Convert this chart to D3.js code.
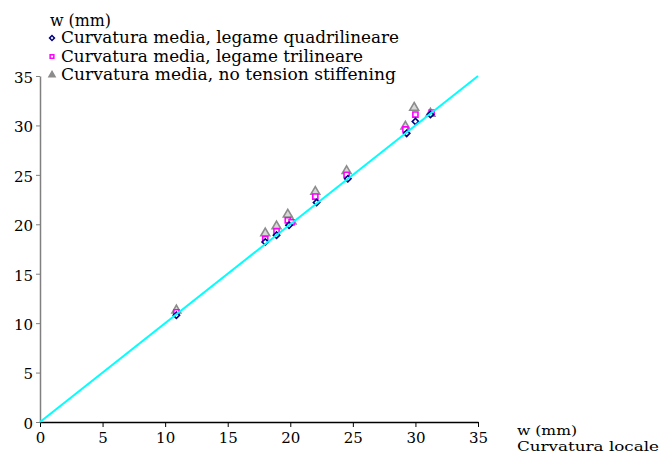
<!DOCTYPE html>
<html>
<head>
<meta charset="utf-8">
<script src="https://cdn.jsdelivr.net/npm/d3@7/dist/d3.min.js"></script>
<style>
  body { margin: 0; background: #fff; }
  text { font-family: "DejaVu Serif", serif; }
</style>
</head>
<body>
<svg id="chart" width="659" height="458"></svg>
<script>
// Deflection (mm): local curvature (x) vs. mean curvature (y)
const xQuad = [10.9, 18.0, 18.9, 19.9, 22.1, 24.6, 29.3, 30.0, 31.2];
const yQuad = [10.8, 18.2, 18.9, 19.9, 22.2, 24.6, 29.2, 30.4, 31.1];
const xTri  = [10.9, 18.0, 18.9, 19.8, 20.1, 22.0, 24.5, 29.2, 30.0, 31.3];
const yTri  = [11.1, 18.5, 19.3, 20.4, 20.2, 22.8, 25.0, 29.6, 31.1, 31.3];
const xNoTS = [10.9, 18.0, 18.9, 19.8, 20.1, 22.0, 24.5, 29.2, 29.9, 31.2];
const yNoTS = [11.3, 19.1, 19.8, 21.0, 20.3, 23.3, 25.4, 29.9, 31.8, 31.2];
const lineX = [0, 35];
const ticks = [0, 5, 10, 15, 20, 25, 30, 35];
const legendLabels = [
  "Curvatura media, legame quadrilineare",
  "Curvatura media, legame trilineare",
  "Curvatura media, no tension stiffening"
];
const legendWidths = [338, 302, 335];

const svg = d3.select("#chart");
const x = d3.scaleLinear().domain([0, 35]).range([40, 478]);
const y = d3.scaleLinear().domain([0, 35]).range([422, 76]);

// axes
const yAxis = svg.append("g").attr("transform", "translate(40,0)")
  .call(d3.axisLeft(y).tickValues(ticks).tickSize(4).tickSizeOuter(0).tickPadding(3));
yAxis.select(".domain").attr("stroke", "#808080").attr("stroke-width", 1.5);
yAxis.selectAll(".tick line").attr("stroke", "#808080");
yAxis.selectAll("text").attr("font-size", 15).attr("fill", "#000").attr("dy", "0.42em");

const xAxis = svg.append("g").attr("transform", "translate(0,422)")
  .call(d3.axisBottom(x).tickValues(ticks).tickSize(5).tickSizeOuter(0).tickPadding(5));
xAxis.select(".domain").attr("stroke", "#000").attr("stroke-width", 1.5);
xAxis.selectAll(".tick line").attr("stroke", "#000");
xAxis.selectAll("text").attr("font-size", 15).attr("fill", "#000");

// axis titles
function title(tx, ty, size, len, str) {
  svg.append("text").attr("x", tx).attr("y", ty).attr("font-size", size)
    .attr("textLength", len).attr("lengthAdjust", "spacingAndGlyphs").text(str);
}
title(50, 25.5, 16, 61, "w (mm)");
title(517, 435, 13.5, 60, "w (mm)");
title(517, 451, 13.5, 142, "Curvatura locale");

// markers
const diamondPath = d3.symbol().type(d3.symbolSquare).size(20)();
const symSquare = d3.symbol().type(d3.symbolSquare).size(26);
const symTri = d3.symbol().type(d3.symbolTriangle).size(34);

function drawSeries(xs, ys, d, stroke, fill, rot) {
  svg.append("g").selectAll("path").data(xs).join("path")
    .attr("d", d)
    .attr("transform", (v, i) => `translate(${x(v)},${y(ys[i])}) rotate(${rot})`)
    .attr("fill", fill).attr("stroke", stroke).attr("stroke-width", 1.6);
}
drawSeries(xNoTS, yNoTS, symTri, "#8c8c8c", "#d8d8d8", 0);
drawSeries(xTri, yTri, symSquare, "#ff00ff", "#fff", 0);
drawSeries(xQuad, yQuad, diamondPath, "#000080", "#fff", 45);

// reference line y = x
svg.append("path")
  .datum(lineX)
  .attr("d", d3.line().x(d => x(d)).y(d => y(d)))
  .attr("stroke", "#00ffff").attr("stroke-width", 2).attr("fill", "none");

// legend
const legSyms = [
  { d: d3.symbol().type(d3.symbolSquare).size(12)(), rot: 45, stroke: "#000080", fill: "#fff" },
  { d: d3.symbol().type(d3.symbolSquare).size(14)(), rot: 0, stroke: "#ff00ff", fill: "#fff" },
  { d: d3.symbol().type(d3.symbolTriangle).size(16)(), rot: 0, stroke: "#8c8c8c", fill: "#8c8c8c" }
];
const leg = svg.append("g");
legendLabels.forEach((lab, i) => {
  const base = 43 + i * 18.5;
  leg.append("path").attr("d", legSyms[i].d)
    .attr("transform", `translate(52,${base - 5}) rotate(${legSyms[i].rot})`)
    .attr("fill", legSyms[i].fill).attr("stroke", legSyms[i].stroke).attr("stroke-width", 1.5);
  leg.append("text").attr("x", 61).attr("y", base).attr("font-size", 16)
    .attr("textLength", legendWidths[i]).attr("lengthAdjust", "spacingAndGlyphs").text(lab);
});
</script>
</body>
</html>
